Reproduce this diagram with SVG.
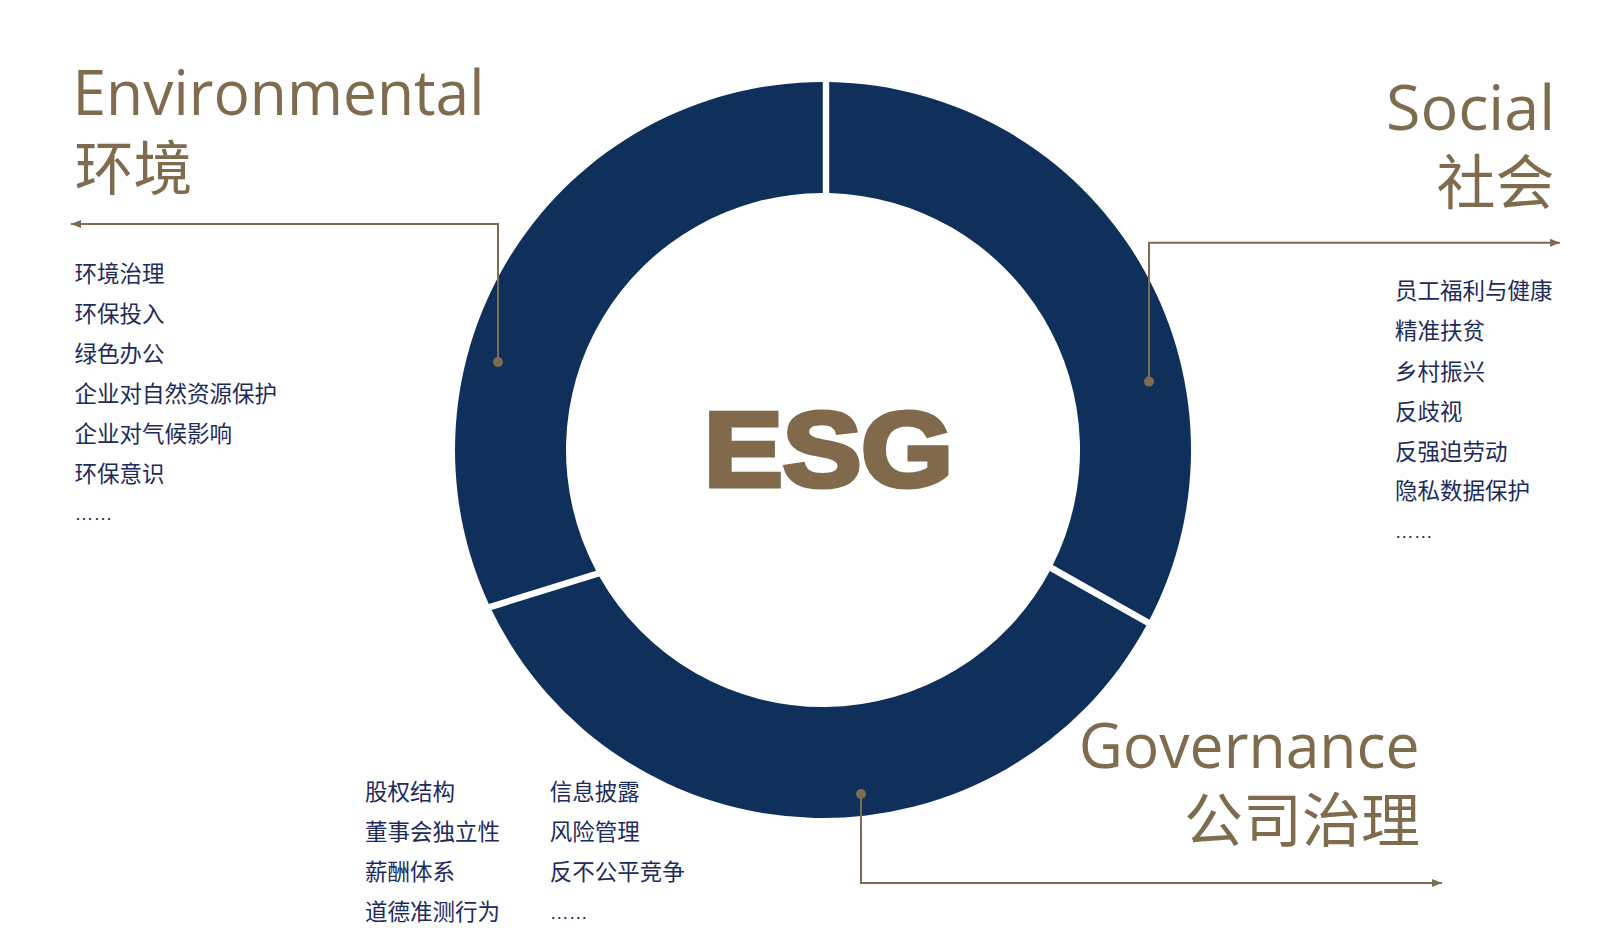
<svg xmlns="http://www.w3.org/2000/svg" width="1600" height="950" viewBox="0 0 1600 950">
<style>
.seg{fill:#10305c}
.h-en{font-family:"Open Sans","Noto Sans",sans-serif;font-size:62px;fill:#7f6b4e}
.h-cn{font-family:"Noto Sans CJK SC","Noto Sans",sans-serif;font-size:59px;fill:#7f6b4e}
.item{font-family:"Noto Sans CJK SC","Noto Sans",sans-serif;font-size:22.5px;fill:#1d2b5b}
.more{font-family:"Liberation Sans",sans-serif;font-size:19px;fill:#1d2b5b}
.conn{fill:none;stroke:#7f6b4e;stroke-width:2}
.dot{fill:#7f6b4e}
.esg{font-family:"Liberation Sans",Arial,sans-serif;font-weight:700;font-size:106px;fill:#806a4b;stroke:#806a4b;stroke-width:5;stroke-linejoin:miter}
</style>
<defs>
<marker id="arr" markerUnits="userSpaceOnUse" markerWidth="12" markerHeight="10" refX="10" refY="4" orient="auto">
<path d="M0,0 L10,4 L0,8 Z" fill="#7f6b4e"/>
</marker>
</defs>
<rect width="1600" height="950" fill="#ffffff"/>

<g id="node-environmental">
<path class="seg" d="M488.79,604.0 A368,368 0 0 1 822.8,82.0 L822.8,193.0 A257,257 0 0 0 596.11,570.68 Z"/>
<text class="h-en" x="72.5" y="115" textLength="412" lengthAdjust="spacingAndGlyphs">Environmental</text>
<text class="h-cn" x="74.5" y="189.5">环境</text>
<text class="item" x="74.5" y="281.5">环境治理</text>
<text class="item" x="74.5" y="321.6">环保投入</text>
<text class="item" x="74.5" y="361.7">绿色办公</text>
<text class="item" x="74.5" y="401.8">企业对自然资源保护</text>
<text class="item" x="74.5" y="441.9">企业对气候影响</text>
<text class="item" x="74.5" y="482">环保意识</text>
<text class="more" x="74.5" y="519.5">……</text>
</g>

<g id="node-social">
<path class="seg" d="M829.2,82.05 A368,368 0 0 1 1149.48,619.83 L1052.79,565.11 A257,257 0 0 0 829.2,193.08 Z"/>
<text class="h-en" x="1386" y="130" textLength="169" lengthAdjust="spacingAndGlyphs">Social</text>
<text class="h-cn" x="1554.5" y="203.8" text-anchor="end">社会</text>
<text class="item" x="1395" y="299.3">员工福利与健康</text>
<text class="item" x="1395" y="339.2">精准扶贫</text>
<text class="item" x="1395" y="379.5">乡村振兴</text>
<text class="item" x="1395" y="420.2">反歧视</text>
<text class="item" x="1395" y="460.2">反强迫劳动</text>
<text class="item" x="1395" y="499.3">隐私数据保护</text>
<text class="more" x="1394.7" y="537.6">……</text>
</g>

<g id="node-governance">
<path class="seg" d="M1146.43,625.58 A368,368 0 0 1 491.59,609.94 L599.29,576.5 A257,257 0 0 0 1049.81,570.89 Z"/>
<text class="h-en" x="1078.7" y="768.3" textLength="341" lengthAdjust="spacingAndGlyphs">Governance</text>
<text class="h-cn" x="1420" y="841.8" text-anchor="end">公司治理</text>
<text class="item" x="365" y="800.3">股权结构</text>
<text class="item" x="365" y="840.3">董事会独立性</text>
<text class="item" x="365" y="880.3">薪酬体系</text>
<text class="item" x="365" y="920.3">道德准测行为</text>
<text class="item" x="549.7" y="800.3">信息披露</text>
<text class="item" x="549.7" y="840.3">风险管理</text>
<text class="item" x="549.7" y="880.3">反不公平竞争</text>
<text class="more" x="549.7" y="919">……</text>
</g>

<g id="node-esg">
<text class="esg" x="704" y="485.5" textLength="249" lengthAdjust="spacingAndGlyphs">ESG</text>
</g>

<g id="connectors">
<path class="conn" d="M498,362 V224 H71" marker-end="url(#arr)"/>
<circle class="dot" cx="498" cy="362" r="5"/>
<path class="conn" d="M1149,381.6 V242.7 H1560" marker-end="url(#arr)"/>
<circle class="dot" cx="1149" cy="381.6" r="5"/>
<path class="conn" d="M861,794 V883 H1442" marker-end="url(#arr)"/>
<circle class="dot" cx="861" cy="794" r="5"/>
</g>
</svg>
